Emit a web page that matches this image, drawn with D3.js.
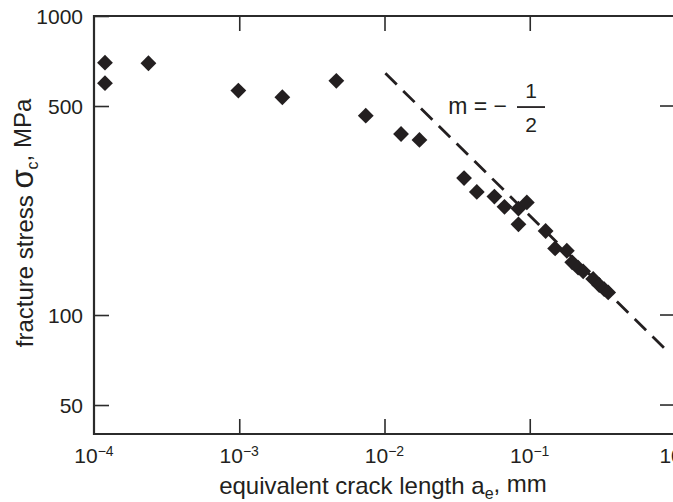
<!DOCTYPE html>
<html>
<head>
<meta charset="utf-8">
<script src="https://cdn.jsdelivr.net/npm/d3@7"></script>
<style>
  body { margin: 0; background: #fff; overflow: hidden; }
  svg { display: block; font-family: "Liberation Sans", Arial, sans-serif; }
  .axis .domain { display: none; }
  .axis line { stroke: #2b2b2b; stroke-width: 1.6px; }
</style>
</head>
<body>
<div id="chart"></div>
<script>
// crack length (mm) and fracture stress (MPa)
var crackLen = [1.19e-4, 1.19e-4, 2.37e-4, 9.86e-4, 1.98e-3, 4.66e-3, 7.43e-3,
    1.30e-2, 1.74e-2, 3.53e-2, 4.32e-2, 5.71e-2, 6.70e-2, 8.36e-2, 9.55e-2, 8.36e-2,
    0.1286, 0.1495, 0.180, 0.196, 0.2154, 0.2332, 0.2733, 0.3006, 0.3254, 0.3467];
var stress = [698, 596, 695, 563, 535, 607, 464,
    403, 385, 287, 258, 249, 230, 227, 238, 201,
    191, 167, 164, 150, 144, 140, 132, 126, 122, 119];

// slope m = -1/2 guide line
var lineA = [1.014e-2, 0.898];
var lineS = [643, 75.2];

var xTicks = [1e-4, 1e-3, 1e-2, 1e-1, 1];
var xTickExp = ["\u22124", "\u22123", "\u22122", "\u22121", "0"];
var yTicks = [50, 100, 500, 1000];

var W = 673, H = 502;
var margin = { left: 94, top: 16, right: -2, bottom: 68 };

var svg = d3.select("#chart").append("svg")
    .attr("width", W)
    .attr("height", H);

var x = d3.scaleLog().domain([1e-4, 1]).range([margin.left, W - margin.right]);
var y = d3.scaleLog().domain([40, 1000]).range([H - margin.bottom, margin.top]);

var ink = "#231f20";
var axisInk = "#2b2b2b";

// frame (right side falls outside the picture)
var frame = svg.append("g")
    .attr("stroke", axisInk)
    .attr("stroke-width", 2.2);
frame.append("line")
    .attr("x1", x(1e-4)).attr("x2", x(1e-4))
    .attr("y1", y(1000) - 1.1).attr("y2", y(40) + 1.1);
frame.append("line")
    .attr("x1", x(1e-4)).attr("x2", W)
    .attr("y1", y(1000)).attr("y2", y(1000));
frame.append("line")
    .attr("x1", x(1e-4)).attr("x2", W)
    .attr("y1", y(40)).attr("y2", y(40));

// left axis with labels, ticks inward
var yAxis = svg.append("g")
    .attr("class", "axis")
    .attr("transform", "translate(" + x(1e-4) + ",0)")
    .call(d3.axisLeft(y).tickValues(yTicks).tickSize(-15).tickSizeOuter(0).tickPadding(11).tickFormat(d3.format("d")));
yAxis.selectAll("text")
    .attr("fill", ink)
    .style("font-size", "21px")
    .attr("dy", "0.35em");

// right-hand ticks
svg.append("g").selectAll("line")
    .data(yTicks.slice(0, 3))
    .join("line")
    .attr("x1", x(1) - 15).attr("x2", W)
    .attr("y1", function(d) { return y(d); })
    .attr("y2", function(d) { return y(d); })
    .attr("stroke", axisInk)
    .attr("stroke-width", 1.6);

svg.append("g")
    .attr("class", "axis")
    .attr("transform", "translate(0," + y(40) + ")")
    .call(d3.axisBottom(x).tickValues(xTicks.slice(1, 4)).tickSize(-15).tickSizeOuter(0).tickFormat(""));

svg.append("g")
    .attr("class", "axis")
    .attr("transform", "translate(0," + y(1000) + ")")
    .call(d3.axisTop(x).tickValues(xTicks.slice(1, 4)).tickSize(-15).tickSizeOuter(0).tickFormat(""));

// x tick labels as powers of ten
var xl = svg.append("g").selectAll("text")
    .data(xTicks)
    .join("text")
    .attr("x", function(d) { return x(d); })
    .attr("y", y(40) + 29)
    .attr("text-anchor", "middle")
    .attr("fill", ink)
    .style("font-size", "21px");
xl.append("tspan").text("10");
xl.append("tspan")
    .attr("dy", "-0.5em")
    .style("font-size", "14px")
    .text(function(d, i) { return xTickExp[i]; });

// guide line
svg.append("path")
    .datum(d3.range(lineA.length))
    .attr("d", d3.line()
        .x(function(i) { return x(lineA[i]); })
        .y(function(i) { return y(lineS[i]); }))
    .attr("fill", "none")
    .attr("stroke", ink)
    .attr("stroke-width", 2.8)
    .attr("stroke-dasharray", "16,9");

// data diamonds
svg.append("g").selectAll("path")
    .data(d3.range(crackLen.length))
    .join("path")
    .attr("d", d3.symbol(d3.symbolSquare, 125))
    .attr("transform", function(i) {
        return "translate(" + x(crackLen[i]) + "," + y(stress[i]) + ") rotate(45)";
    })
    .attr("fill", ink);

// slope annotation
var ann = svg.append("g")
    .attr("transform", "translate(" + x(0.102) + "," + y(496) + ")")
    .attr("fill", ink)
    .style("font-size", "23px");
ann.append("text")
    .attr("x", -24)
    .attr("y", 7)
    .attr("text-anchor", "end")
    .text("m = \u2212");
ann.append("line")
    .attr("x1", -14).attr("x2", 14)
    .attr("y1", 0).attr("y2", 0)
    .attr("stroke", ink)
    .attr("stroke-width", 1.8);
ann.append("text")
    .attr("y", -9)
    .attr("text-anchor", "middle")
    .style("font-size", "21px")
    .text("1");
ann.append("text")
    .attr("y", 25)
    .attr("text-anchor", "middle")
    .style("font-size", "21px")
    .text("2");

// axis titles
var xt = svg.append("text")
    .attr("x", 383)
    .attr("y", 494)
    .attr("text-anchor", "middle")
    .attr("fill", ink)
    .style("font-size", "24px");
xt.append("tspan").text("equivalent crack length a");
xt.append("tspan").attr("dy", "0.3em").style("font-size", "16px").text("e");
xt.append("tspan").attr("dy", "-0.3em").text(", mm");

var yt = svg.append("text")
    .attr("transform", "translate(33,223) rotate(-90)")
    .attr("text-anchor", "middle")
    .attr("fill", ink)
    .style("font-size", "24px");
yt.append("tspan").text("fracture stress ");
yt.append("tspan").style("font-size", "31px").text("\u03c3");
yt.append("tspan").attr("dy", "0.3em").style("font-size", "16px").text("c");
yt.append("tspan").attr("dy", "-0.3em").text(", MPa");
</script>
</body>
</html>
